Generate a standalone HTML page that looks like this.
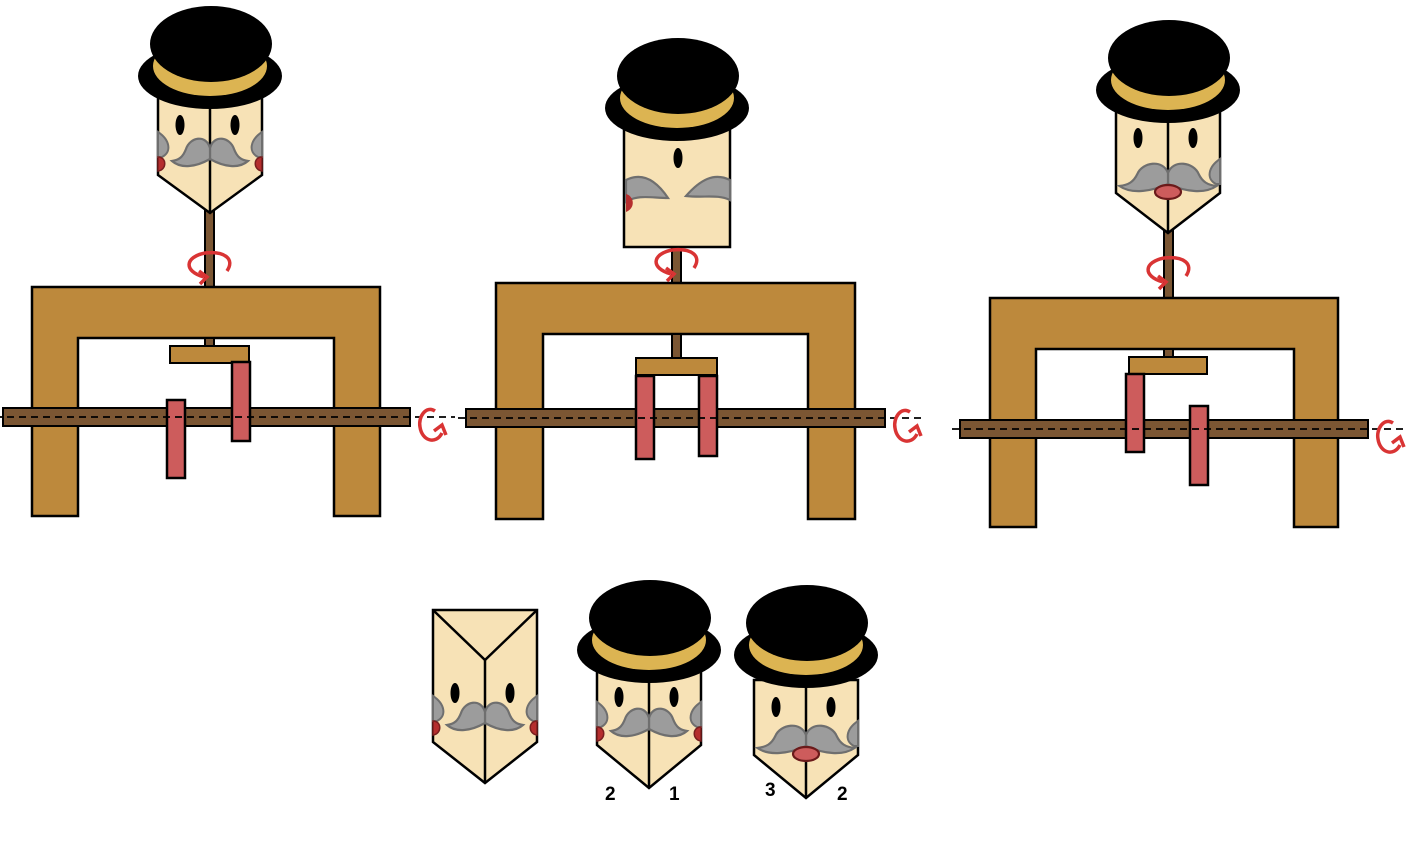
<!DOCTYPE html>
<html><head><meta charset="utf-8"><style>
html,body{margin:0;padding:0;background:#fff;}
svg{display:block;}
text{font-family:"Liberation Sans",sans-serif;font-weight:bold;font-size:19px;fill:#000;}
</style></head><body>
<svg id="s" width="1406" height="854" viewBox="0 0 1406 854" xmlns="http://www.w3.org/2000/svg"></svg>
<script>
const S=document.getElementById('s');
const FR='#bd893c',SH='#7b5633',RED='#cd5c5c',FACE='#f7e2b6',BAND='#dcb452',MU='#9c9c9c',CH='#b52e2e',ARW='#d93434';
let out='';
function add(s){out+=s;}
function hat(cx,cy,name){
  add(`<g>`+
  `<ellipse cx="${cx}" cy="${cy}" rx="72" ry="33" fill="#000"/>`+
  `<ellipse cx="${cx}" cy="${cy-10}" rx="57" ry="30" fill="${BAND}"/>`+
  `<ellipse cx="${cx+1}" cy="${cy-32}" rx="61" ry="38" fill="#000"/>`+
  `</g>`);
}
function mhalf(x,y,s,w){
  const k=w/36;
  const X=d=>x+s*d*k;
  return `<path d="M${x} ${y-4} C${X(4)} ${y-18} ${X(20)} ${y-15} ${X(24)} ${y-3} C${X(27)} ${y+5} ${X(31)} ${y+8} ${X(38)} ${y+9} C${X(29)} ${y+17} ${X(14)} ${y+15} ${x} ${y+7} Z" fill="${MU}" stroke="#6f6f6f" stroke-width="2.2"/>`;
}
function sideWhisker(x,y,s){
  return `<path d="M${x} ${y-16} C${x-s*12} ${y-8} ${x-s*14} ${y+4} ${x-s*4} ${y+9} L${x} ${y+9} Z" fill="${MU}" stroke="#6f6f6f" stroke-width="2"/>`;
}
function cheek(x,y,s){
  return `<path d="M${x} ${y-4} C${x-s*9} ${y-4} ${x-s*9} ${y+9} ${x} ${y+10} Z" fill="${CH}" stroke="#7a1f1f" stroke-width="1.5"/>`;
}
function head(cx,top,sideBot,pt,opts,name){
  const l=cx-52,r=cx+52;
  let g=`<g>`;
  g+=`<path d="M${l} ${top} L${r} ${top} L${r} ${sideBot} L${cx} ${pt} L${l} ${sideBot} Z" fill="${FACE}" stroke="#000" stroke-width="2.5"/>`;
  if(opts.topFace){g+=`<path d="M${l} ${top} L${cx} ${opts.topFace} L${r} ${top}" fill="none" stroke="#000" stroke-width="2.5"/>`;g+=`<line x1="${cx}" y1="${opts.topFace}" x2="${cx}" y2="${pt}" stroke="#000" stroke-width="2.5"/>`;}
  else g+=`<line x1="${cx}" y1="${top}" x2="${cx}" y2="${pt}" stroke="#000" stroke-width="2.5"/>`;
  const ey=opts.eyeY, my=opts.mY;
  g+=`<ellipse cx="${cx-30}" cy="${ey}" rx="4.5" ry="10" fill="#000"/><ellipse cx="${cx+25}" cy="${ey}" rx="4.5" ry="10" fill="#000"/>`;
  if(opts.wide){
    g+=mhalf(cx,my,1,46)+mhalf(cx,my,-1,46);
    g+=sideWhisker(r,my-2,1);
    g+=`<ellipse cx="${cx}" cy="${my+15}" rx="13" ry="7" fill="${RED}" stroke="#6b1a1a" stroke-width="2.2"/>`;
  } else {
    g+=mhalf(cx,my,1,36)+mhalf(cx,my,-1,36);
    g+=sideWhisker(l,my-4,-1)+sideWhisker(r,my-4,1);
    g+=cheek(l,my+9,-1)+cheek(r,my+9,1);
  }
  g+=`</g>`;add(g);
}
function arrowV(x,y,name){
  add(`<path d="M${x-5} ${y+14} C${x-26} ${y+8} ${x-24} ${y-6} ${x-4} ${y-10} C${x+16} ${y-12} ${x+26} ${y-4} ${x+18} ${y+8}" fill="none" stroke="${ARW}" stroke-width="3.5"/>`+
  `<path d="M${x-10} ${y+8} L${x-2} ${y+14} L${x-9} ${y+21}" fill="none" stroke="${ARW}" stroke-width="3.5"/>`);
}
function arrowH(x,y,name){
  add(`<path d="M${x+5} ${y-12} C${x-4} ${y-18} ${x-12} ${y-6} ${x-10} ${y+4} C${x-8} ${y+18} ${x+6} ${y+22} ${x+12} ${y+10}" fill="none" stroke="${ARW}" stroke-width="3.5"/>`+
  `<path d="M${x+4} ${y+8} L${x+12} ${y+2} L${x+16} ${y+12}" fill="none" stroke="${ARW}" stroke-width="3.5"/>`);
}
function machine(m,i){
  add(`<g>`);
  add(`<rect x="${m.rx}" y="${m.rodTop}" width="9" height="${m.plateY-m.rodTop}" fill="${SH}" stroke="#000" stroke-width="2"/>`);
  const {fx1,fx2,fy1,fy2,ix1,ix2,iy}=m;
  add(`<path d="M${fx1} ${fy1} L${fx2} ${fy1} L${fx2} ${fy2} L${ix2} ${fy2} L${ix2} ${iy} L${ix1} ${iy} L${ix1} ${fy2} L${fx1} ${fy2} Z" fill="${FR}" stroke="#000" stroke-width="2.5"/>`);
  add(`<rect x="${m.rx}" y="${iy}" width="9" height="${m.plateY-iy}" fill="${SH}" stroke="#000" stroke-width="2"/>`);
  add(`<rect x="${m.sx1}" y="${m.sy}" width="${m.sx2-m.sx1}" height="18" fill="${SH}" stroke="#000" stroke-width="2"/>`);
  add(`<rect x="${m.px1}" y="${m.plateY}" width="${m.px2-m.px1}" height="17" fill="${FR}" stroke="#000" stroke-width="2"/>`);
  m.bars.forEach((b,j)=>add(`<rect x="${b[0]}" y="${b[1]}" width="18" height="${b[2]-b[1]}" fill="${RED}" stroke="#000" stroke-width="2.5"/>`));
  add(`<line x1="${m.sx1-8}" y1="${m.sy+9}" x2="${m.dashEnd}" y2="${m.sy+9}" stroke="#000" stroke-width="1.8" stroke-dasharray="7,5"/>`);
  add(`</g>`);
  arrowH(m.ax,m.sy+15,'shaft-rotation-arrow-'+i);
}
const machines=[
 {rx:205,rodTop:205,fx1:32,fx2:380,fy1:287,fy2:516,ix1:78,ix2:334,iy:338,sx1:3,sx2:410,sy:408,px1:170,px2:249,plateY:346,bars:[[232,362,441],[167,400,478]],dashEnd:455,ax:430},
 {rx:672,rodTop:240,fx1:496,fx2:855,fy1:283,fy2:519,ix1:543,ix2:808,iy:334,sx1:466,sx2:885,sy:409,px1:636,px2:717,plateY:358,bars:[[636,376,459],[699,376,456]],dashEnd:922,ax:905},
 {rx:1164,rodTop:225,fx1:990,fx2:1338,fy1:298,fy2:527,ix1:1036,ix2:1294,iy:349,sx1:960,sx2:1368,sy:420,px1:1129,px2:1207,plateY:357,bars:[[1126,374,452],[1190,406,485]],dashEnd:1405,ax:1388}
];
machines.forEach((m,i)=>machine(m,i+1));
head(210,98,175,213,{eyeY:125,mY:152},'head-1');
hat(210,76,'hat-1');
arrowV(209,263,'rod-rotation-arrow-1');
add(`<g><rect x="624" y="118" width="106" height="129" fill="${FACE}" stroke="#000" stroke-width="2.5"/>`+
`<ellipse cx="678" cy="158" rx="4.5" ry="10" fill="#000"/>`+
`<path d="M626 180 C642 172 656 180 668 198 C652 198 638 194 626 202 Z" fill="${MU}" stroke="#6f6f6f" stroke-width="2.2"/>`+
`<path d="M730 180 C714 172 700 180 686 196 C704 198 718 194 730 200 Z" fill="${MU}" stroke="#6f6f6f" stroke-width="2.2"/>`+
`<path d="M626 194 C634 196 636 208 626 212 Z" fill="${CH}"/></g>`);
hat(677,108,'hat-2');
arrowV(676,260,'rod-rotation-arrow-2');
head(1168,108,193,233,{eyeY:138,mY:177,wide:true},'head-3');
hat(1168,90,'hat-3');
arrowV(1168,268,'rod-rotation-arrow-3');
head(485,610,742,783,{topFace:660,eyeY:693,mY:716},'prism-head');
head(649,668,745,788,{eyeY:697,mY:722},'bottom-head-1');
hat(649,650,'bottom-hat-1');
head(806,680,755,798,{eyeY:707,mY:739,wide:true},'bottom-head-2');
hat(806,655,'bottom-hat-2');
add(`<text x="605" y="800">2</text>`);
add(`<text x="669" y="800">1</text>`);
add(`<text x="765" y="796">3</text>`);
add(`<text x="837" y="800">2</text>`);
S.innerHTML=out;
</script>
</body></html>
